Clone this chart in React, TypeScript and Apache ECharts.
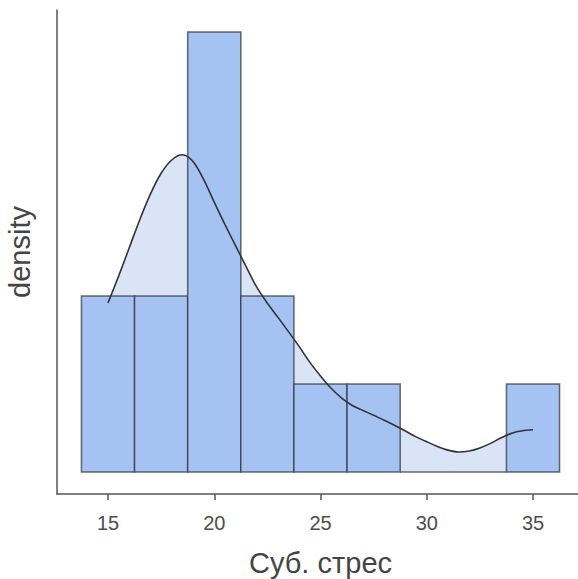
import React, { useEffect, useRef } from "react";
import * as echarts from "echarts";

// Histogram bins (Суб. стрес), width 2.5
const binStarts = [13.75, 16.25, 18.75, 21.25, 23.75, 26.25, 28.75, 31.25, 33.75];
const binWidth = 2.5;
const binCounts = [2, 2, 5, 2, 1, 1, 0, 0, 1];
const totalN = 14;

// Density curve (every 0.5)
const densX = [15, 15.5, 16, 16.5, 17, 17.5, 18, 18.5, 19, 19.5, 20, 20.5, 21, 21.5, 22, 22.5, 23, 23.5, 24, 24.5, 25, 25.5, 26, 26.5, 27, 27.5, 28, 28.5, 29, 29.5, 30, 30.5, 31, 31.5, 32, 32.5, 33, 33.5, 34, 34.5, 35];
const densY = [0.0549, 0.0636, 0.0728, 0.0820, 0.0903, 0.0970, 0.1013, 0.1030, 0.1008, 0.0950, 0.0876, 0.0804, 0.0735, 0.0667, 0.0600, 0.0548, 0.0502, 0.0455, 0.0407, 0.0356, 0.0312, 0.0272, 0.0240, 0.0216, 0.0200, 0.0184, 0.0168, 0.0151, 0.0133, 0.0114, 0.0098, 0.0083, 0.0071, 0.0065, 0.0068, 0.0078, 0.0093, 0.0111, 0.0126, 0.0134, 0.0137];

const xTicks = [15, 20, 25, 30, 35];

const FONT = "'Liberation Sans', Arial, sans-serif";

export default function App() {
  const ref = useRef<HTMLDivElement>(null);
  useEffect(() => {
    if (!ref.current) return;
    const chart = echarts.init(ref.current, undefined, { renderer: "svg" });
    const barData = binStarts.map((s, i) => [s, s + binWidth, binCounts[i] / (totalN * binWidth)]);
    const curve = densX.map((x, i) => [x, densY[i]]);
    chart.setOption({
      animation: false,
      backgroundColor: "#ffffff",
      grid: { left: 57, right: -6, top: 10, bottom: 85, containLabel: false, outerBoundsMode: "none" },
      xAxis: {
        type: "value",
        min: 12.6,
        max: 37.4,
        name: "Суб. стрес",
        nameLocation: "middle",
        nameGap: 54,
        nameTextStyle: { fontSize: 29, color: "#444444", fontFamily: FONT },
        axisLine: { show: true, onZero: false, lineStyle: { color: "#555555", width: 1.5 } },
        axisTick: { show: true, customValues: xTicks, length: 6, lineStyle: { color: "#555555", width: 1.5 } },
        axisLabel: { show: true, customValues: xTicks, fontSize: 20, color: "#4d4d4d", margin: 19, fontFamily: FONT },
        splitLine: { show: false },
      },
      yAxis: {
        type: "value",
        min: -0.00714,
        max: 0.15,
        name: "density",
        nameLocation: "middle",
        nameRotate: 90,
        nameGap: 23,
        nameTextStyle: { fontSize: 29, color: "#444444", fontFamily: FONT },
        axisLine: { show: true, onZero: false, lineStyle: { color: "#555555", width: 1.5 } },
        axisTick: { show: false },
        axisLabel: { show: false },
        splitLine: { show: false },
      },
      series: [
        {
          type: "line",
          data: curve,
          smooth: 0.3,
          symbol: "none",
          z: 1,
          lineStyle: { width: 0, opacity: 0 },
          areaStyle: { color: "#d9e4f6", opacity: 1 },
          silent: true,
        },
        {
          type: "custom",
          z: 2,
          data: barData,
          encode: { x: [0, 1], y: 2 },
          renderItem: (params: any, api: any) => {
            const x0 = api.value(0);
            const x1 = api.value(1);
            const h = api.value(2);
            const p0 = api.coord([x0, h]);
            const p1 = api.coord([x1, 0]);
            return {
              type: "rect",
              shape: { x: p0[0], y: p0[1], width: p1[0] - p0[0], height: p1[1] - p0[1] },
              style: { fill: "#a4c2f2", stroke: "rgba(50,50,55,0.72)", lineWidth: 1.5 },
            };
          },
        },
        {
          type: "line",
          data: curve,
          smooth: 0.3,
          symbol: "none",
          z: 3,
          lineStyle: { width: 1.6, color: "#333333" },
          silent: true,
        },
      ],
    });
    return () => chart.dispose();
  }, []);
  return <div ref={ref} style={{ position: "fixed", left: 0, top: 0, width: 578, height: 579 }} />;
}
